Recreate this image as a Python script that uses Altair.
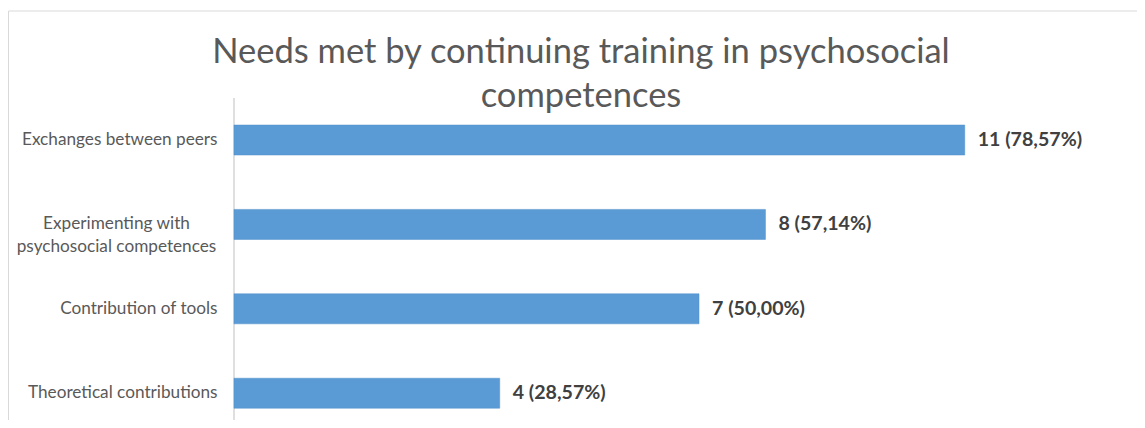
import altair as alt
import pandas as pd

categories = [
    "Exchanges between peers",
    "Experimenting with|psychosocial competences",
    "Contribution of tools",
    "Theoretical contributions",
]
counts = [11, 8, 7, 4]
percents = ["78,57%", "57,14%", "50,00%", "28,57%"]

df = pd.DataFrame({
    "category": categories,
    "count": counts,
    "label": [f"{c} ({p})" for c, p in zip(counts, percents)],
})

W = 880
H = 314
FONT = "Lato"
LABEL_SIZE = 17.2

x_scale = alt.Scale(domain=[0, 13.247], nice=False, zero=True)
y_scale = alt.Scale(paddingInner=0.6445, paddingOuter=0.1825, align=0.877)

y_enc = alt.Y("category:N", sort=categories, scale=y_scale,
              axis=alt.Axis(title=None, ticks=False, domain=False, grid=False,
                            labelFont=FONT, labelFontSize=LABEL_SIZE, labelColor="#595959",
                            labelPadding=17, labelLimit=400,
                            labelExpr="indexof(datum.label, '|') >= 0 ? '' : datum.label"))

base = alt.Chart(df).encode(y=y_enc)

bars = base.mark_bar(color="#5B9BD5", stroke="#4F8FCB", strokeWidth=0.5).encode(
    x=alt.X("count:Q", scale=x_scale, axis=None),
)

labels = base.mark_text(align="left", baseline="middle", dx=13, font=FONT,
                        fontWeight="bold", fontSize=19.6, color="#404040").encode(
    x=alt.X("count:Q", scale=x_scale, axis=None),
    text="label:N",
)

# multi-line category label: lines centred on one another, as in the original
multi_label = alt.Chart(df).transform_filter(
    "indexof(datum.category, '|') >= 0"
).transform_calculate(
    lines="split(datum.category, '|')"
).mark_text(align="center", baseline="middle", font=FONT, fontSize=LABEL_SIZE,
            color="#595959", lineHeight=23).encode(
    y=y_enc,
    x=alt.value(-117.5),
    text="lines:N",
)

frame_data = alt.Data(values=[{"k": 1}])
axis_line = alt.Chart(frame_data).mark_rule(color="#D4D4D4", strokeWidth=1.5).encode(
    x=alt.value(0), y=alt.value(0), y2=alt.value(H + 40)
)
border = alt.Chart(frame_data).mark_rect(filled=False, stroke="#D9D9D9", strokeWidth=1).encode(
    x=alt.value(-225.5), y=alt.value(-87), x2=alt.value(W + 200), y2=alt.value(H + 100)
)

chart = alt.layer(border, axis_line, bars, labels, multi_label).properties(
    width=W,
    height=H,
    background="white",
    title=alt.Title(
        ["Needs met by continuing training in psychosocial", "competences"],
        font=FONT, fontSize=34.5, fontWeight="normal", color="#595959",
        anchor="middle", dx=-93, offset=-104, lineHeight=44,
    ),
    autosize=alt.AutoSizeParams(type="none"),
    padding={"left": 226, "top": 90, "right": 23, "bottom": 8},
).configure_view(strokeWidth=0, stroke="transparent")

chart.save("out.html", embed_options={"renderer": "svg", "actions": False})
